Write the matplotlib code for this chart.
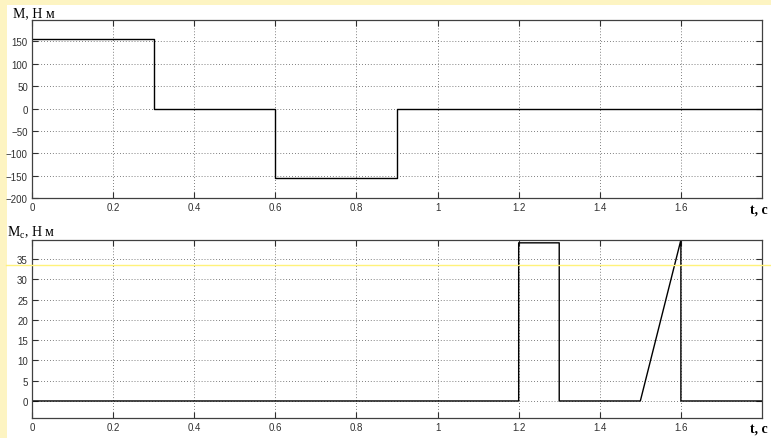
import matplotlib
matplotlib.use("Agg")
import matplotlib.pyplot as plt
from matplotlib.patches import Rectangle
from matplotlib.lines import Line2D

# ---- data ----
t_M = [0, 0.3, 0.3, 0.6, 0.6, 0.9, 0.9, 1.8]
M = [155, 155, 0, 0, -155, -155, 0, 0]

t_Mc = [0, 1.2, 1.2, 1.3, 1.3, 1.5, 1.6, 1.6, 1.8]
Mc = [0, 0, 39, 39, 0, 0, 39.7, 0, 0]

xticks = [0, 0.2, 0.4, 0.6, 0.8, 1.0, 1.2, 1.4, 1.6]
xticklabels = ["0", "0.2", "0.4", "0.6", "0.8", "1", "1.2", "1.4", "1.6"]
yticks_M = [-200, -150, -100, -50, 0, 50, 100, 150]
yticks_Mc = [0, 5, 10, 15, 20, 25, 30, 35]

plt.rcParams["font.family"] = ["Liberation Sans", "DejaVu Sans"]

fig = plt.figure(figsize=(7.71, 4.39), dpi=100)
fig.patch.set_facecolor("#fdf4c2")
# white slide area
fig.add_artist(Rectangle((7 / 771, 0), 1, 1 - 6 / 439, transform=fig.transFigure,
                         facecolor="white", edgecolor="none", zorder=-1))

ax1 = fig.add_axes([32 / 771, 1 - 199 / 439, 730 / 771, 178 / 439])
ax2 = fig.add_axes([32 / 771, 1 - 419 / 439, 730 / 771, 178 / 439])

ax1.plot(t_M, M, color="black", lw=1.0)
ax2.plot(t_Mc, Mc, color="black", lw=1.0)

ax1.set_ylim(-200, 198)
ax2.set_ylim(-4.2, 39.7)
ax1.set_yticks(yticks_M)
ax2.set_yticks(yticks_Mc)

for ax in (ax1, ax2):
    ax.set_xlim(0, 1.8)
    ax.set_xticks(xticks)
    ax.set_xticklabels(xticklabels)
    ax.tick_params(direction="in", top=True, right=True, length=4, width=0.8,
                   labelsize=7, pad=3, colors="#303030")
    ax.grid(True, color="#555555", linestyle=(0, (1, 2.5)), linewidth=0.6)
    for s in ax.spines.values():
        s.set_color("#404040")
        s.set_linewidth(0.9)

# axis captions
fig.text(13 / 771, 1 - 17 / 439, "М, Н м", fontsize=10, family="Liberation Serif",
         ha="left", va="baseline")
fig.text(7 / 771, 1 - 237 / 439, "М$_{\\mathregular{с}}$, Н м", fontsize=10,
         family="Liberation Serif", ha="left", va="baseline")
fig.text(750 / 771, 1 - 214 / 439, "t, c", fontsize=10, family="Liberation Serif",
         fontweight="bold", ha="left", va="baseline")
fig.text(750 / 771, 1 - 433 / 439, "t, c", fontsize=10, family="Liberation Serif",
         fontweight="bold", ha="left", va="baseline")

# pale yellow line crossing the slide
fig.add_artist(Line2D([6 / 771, 1], [1 - 266 / 439, 1 - 266 / 439],
                      transform=fig.transFigure, color="#fff27a", lw=1.0, zorder=3))

fig.savefig("out.png", dpi=100)
